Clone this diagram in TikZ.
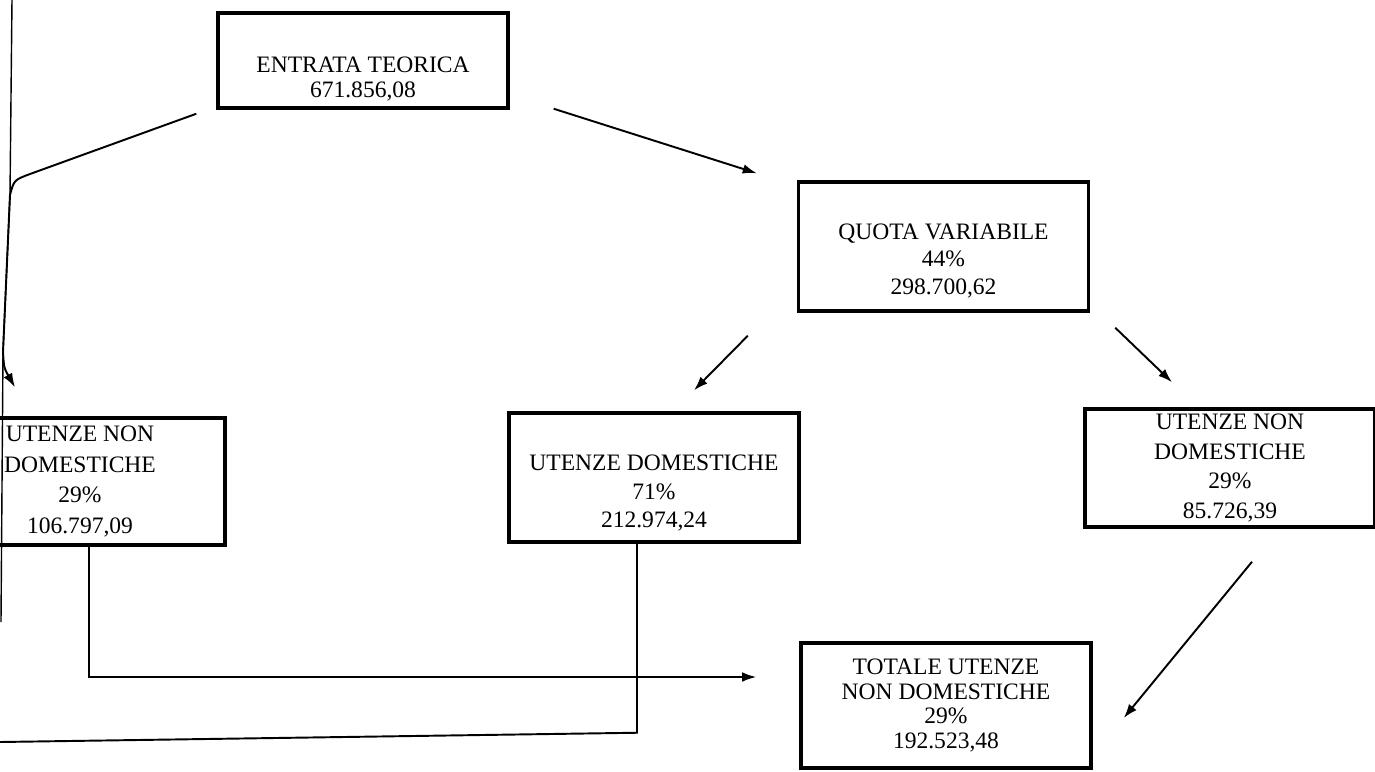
\documentclass[tikz,border=0pt]{standalone}
\usepackage{fontspec}
\setmainfont{Liberation Serif}
\usetikzlibrary{arrows.meta}
\newcommand{\boxfont}[1]{\fontsize{13.4}{#1}\selectfont}
\newcommand{\topgap}[1]{\rule{0pt}{#1}}
\begin{document}
\begin{tikzpicture}[x=0.02cm, y=-0.02cm, >={Latex[length=8pt,width=5.5pt]}]
      \tikzset{
  databox/.style={
    draw,
    line width=2pt,
    inner sep=0pt,
    align=center,
    minimum width=5.8cm
  },
  link/.style={
    line width=1.1pt
  }
}
\useasboundingbox (0,0) rectangle (1375,771);

\node [databox, minimum height=1.9cm, font=\boxfont{14.2pt}] (entrata) at (363,60.5)
  {\topgap{29.5pt}ENTRATA TEORICA\\671.856,08};
\node [databox, minimum height=2.58cm, font=\boxfont{15.6pt}] (quota) at (943.5,246.5)
  {\topgap{25pt}QUOTA VARIABILE\\44\%\\298.700,62};
\node [databox, minimum height=2.54cm, font=\boxfont{17.6pt}] (undl) at (80,481.5)
  {UTENZE NON\\DOMESTICHE\\29\%\\106.797,09};
\node [databox, minimum height=2.58cm, font=\boxfont{16.4pt}] (ud) at (654,477.5)
  {\topgap{26.7pt}UTENZE DOMESTICHE\\71\%\\212.974,24};
\node [databox, minimum height=2.36cm, font=\boxfont{17pt}] (undr) at (1230,468)
  {UTENZE NON\\DOMESTICHE\\29\%\\85.726,39};
\node [databox, minimum height=2.5cm, font=\boxfont{14.2pt}] (totale) at (946,705.5)
  {TOTALE UTENZE\\NON DOMESTICHE\\29\%\\192.523,48};

% lines coming in from the left edge of the page
\coordinate (ltop) at (12,0);
\coordinate (lbend) at (10,195);
\coordinate (lfoot) at (3,352);
\coordinate (lend) at (1,622);
\coordinate (lout) at (0,742);

\draw [line width=.8pt] (ltop) -- (lbend) -- (lfoot) -- (lend);
\draw [link, ->] ([shift={(-20,4)}]entrata.south west) -- (30,174)
  .. controls (14,180) .. (lbend) -- (lfoot)
  .. controls (4,368) .. ([shift={(-65,-29)}]undl.north);

\draw [link, ->] ([shift={(44,-1)}]entrata.south east) -- ([shift={(-40,-7)}]quota.north west);
\draw [link, ->] ([shift={(-49,23)}]quota.south west) -- ([shift={(40,-21)}]ud.north);
\draw [link, ->] ([shift={(25,15)}]quota.south east) -- ([shift={(-58,-25)}]undr.north);
\draw [link, ->] ([shift={(22,33)}]undr.south) -- ([shift={(31,12.5)}]totale.east);

\draw [link, ->] ([shift={(9,0)}]undl.south) |- ([shift={(-43,-28.5)}]totale.west);
\draw [link] ([shift={(-17,0)}]ud.south) -- ++(0,189) -- (lout);
    \end{tikzpicture}
\end{document}
